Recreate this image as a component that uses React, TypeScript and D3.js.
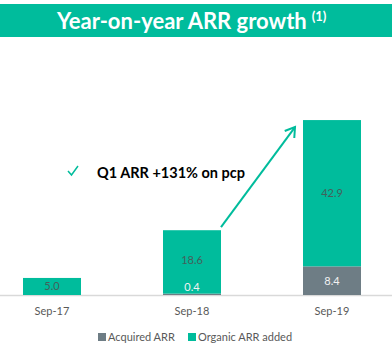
import React from "react";
import * as d3 from "d3";

const categories = ["Sep-17", "Sep-18", "Sep-19"];
const acquired = [0, 0.4, 8.4];
const organic = [5.0, 18.6, 42.9];
const acquiredLabels = ["", "0.4", "8.4"];
const organicLabels = ["5.0", "18.6", "42.9"];
const legendLabels = ["Acquired ARR", "Organic ARR added"];
const title = "Year-on-year ARR growth";
const callout = "Q1 ARR +131% on pcp";

const W = 392;
const H = 349;
const TEAL = "#00bc9c";
const GREY = "#6e7d85";
const FONT = "Lato, 'Open Sans', sans-serif";

export default function App() {
  const x = d3.scalePoint<string>().domain(categories).range([52, 332]);
  const barW = 58;
  const y = d3.scaleLinear().domain([0, 55]).range([295, 295 - 55 * 3.41]);

  const stack = categories.map((c, i) => ({
    c,
    a0: 0,
    a1: acquired[i],
    o0: acquired[i],
    o1: acquired[i] + organic[i],
  }));

  const s18 = stack[1];
  const s19 = stack[2];
  const ax1 = (x(s18.c) as number) + barW / 2;
  const ay1 = y(s18.o1) - 3;
  const ax2 = (x(s19.c) as number) - barW / 2 - 8;
  const ay2 = y(s19.o1) + 7;
  const ang = Math.atan2(ay2 - ay1, ax2 - ax1);
  const hl = 11;
  const hA = Math.PI / 5.5;
  const h1 = [ax2 - hl * Math.cos(ang - hA), ay2 - hl * Math.sin(ang - hA)];
  const h2 = [ax2 - hl * Math.cos(ang + hA), ay2 - hl * Math.sin(ang + hA)];

  return (
    <svg width={W} height={H} style={{ position: "absolute", left: 0, top: 0, background: "#fff" }}>
      <rect x={0} y={4} width={W} height={33} fill={TEAL} />
      <text x={57} y={29} fill="#fff" fontFamily={FONT} fontWeight={700} fontSize={22}>
        {title}
        <tspan dx={5} dy={-8} fontSize={13}>(1)</tspan>
      </text>

      <line x1={0} x2={W} y1={295.5} y2={295.5} stroke="#d9d9d9" strokeWidth={1.5} />

      {stack.map((d, i) => {
        const cx = x(d.c) as number;
        return (
          <g key={d.c}>
            {d.a1 > 0 && (
              <rect x={cx - barW / 2} y={y(d.a1)} width={barW} height={y(d.a0) - y(d.a1)} fill={GREY} />
            )}
            <rect x={cx - barW / 2} y={y(d.o1)} width={barW} height={y(d.o0) - y(d.o1)} fill={TEAL} />
            <text
              x={cx}
              y={i === 1 ? y((d.o0 + d.o1) / 2) - 2 : y((d.o0 + d.o1) / 2)}
              dy="0.35em"
              textAnchor="middle"
              fontFamily={FONT}
              fontSize={11}
              fill="#44605b"
            >
              {organicLabels[i]}
            </text>
            {acquiredLabels[i] && (
              <text
                x={cx}
                y={i === 1 ? y(0) - 8 : y(d.a1 / 2)}
                dy="0.35em"
                textAnchor="middle"
                fontFamily={FONT}
                fontSize={11}
                fill="#f2f2f2"
              >
                {acquiredLabels[i]}
              </text>
            )}
            <text x={cx} y={315} textAnchor="middle" fontFamily={FONT} fontSize={11} fill="#595959">
              {d.c}
            </text>
          </g>
        );
      })}

      <line x1={ax1} y1={ay1} x2={ax2} y2={ay2} stroke={TEAL} strokeWidth={2} />
      <polyline
        points={`${h1[0]},${h1[1]} ${ax2},${ay2} ${h2[0]},${h2[1]}`}
        fill="none"
        stroke={TEAL}
        strokeWidth={2}
      />

      <path d="M68,171 L71.5,175 L78,166" fill="none" stroke={TEAL} strokeWidth={1.5} />
      <text x={97} y={178} fontFamily={FONT} fontWeight={700} fontSize={14.5} fill="#000">
        {callout}
      </text>

      <g fontFamily={FONT} fontSize={11} fill="#595959">
        <rect x={98} y={333} width={8} height={8} fill={GREY} />
        <text x={108} y={341}>{legendLabels[0]}</text>
        <rect x={188} y={333} width={8} height={8} fill={TEAL} />
        <text x={198} y={341}>{legendLabels[1]}</text>
      </g>
    </svg>
  );
}
